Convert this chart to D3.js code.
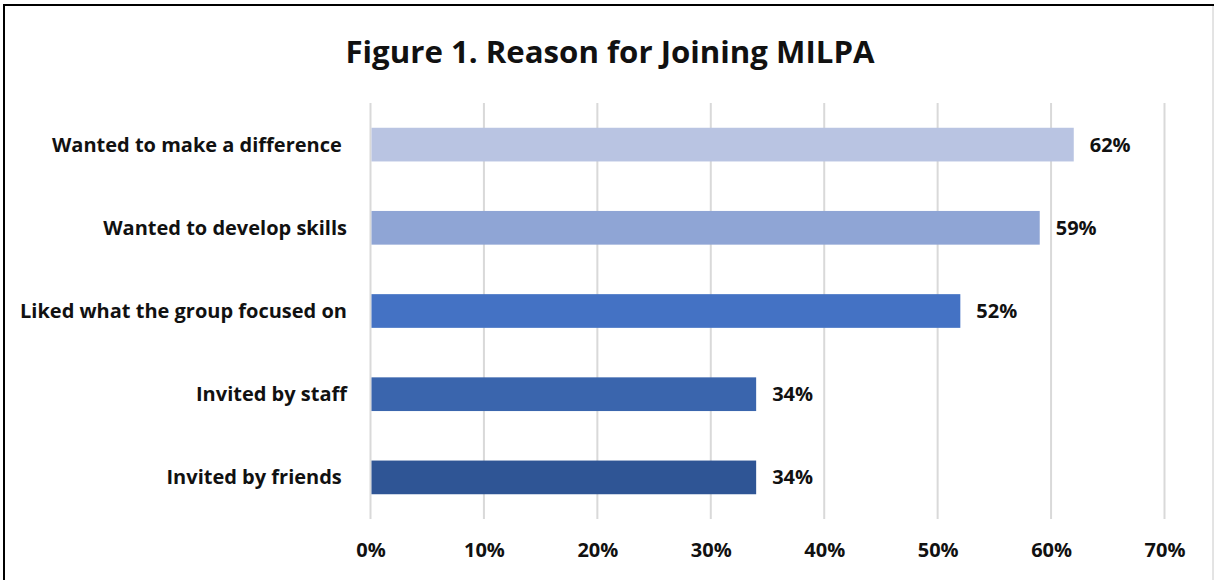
<!DOCTYPE html>
<html><head><meta charset="utf-8">
<script src="https://cdn.jsdelivr.net/npm/d3@7"></script>
<style>
html,body{margin:0;padding:0;background:#fff;}
svg{display:block;}
text{font-family:"Open Sans",Lato,sans-serif;font-weight:bold;fill:#111;}
</style></head>
<body>
<script>
const categories = ["Wanted to make a difference ", "Wanted to develop skills", "Liked what the group focused on", "Invited by staff", "Invited by friends "];
const values = [62, 59, 52, 34, 34];
const barColors = ["#B9C4E2", "#8FA5D5", "#4472C4", "#3A65AD", "#2F5595"];
const tickValues = [0, 10, 20, 30, 40, 50, 60, 70];
const title = "Figure 1. Reason for Joining MILPA";

const W = 1214, H = 580;
const svg = d3.select("body").append("svg").attr("width", W).attr("height", H);
svg.append("rect").attr("width", W).attr("height", H).attr("fill", "#fff");

// border (top & left black, right light gray)
svg.append("line").attr("x1", 3).attr("x2", W).attr("y1", 5).attr("y2", 5).attr("stroke", "#000").attr("stroke-width", 2);
svg.append("line").attr("x1", 4).attr("x2", 4).attr("y1", 4).attr("y2", H).attr("stroke", "#000").attr("stroke-width", 2);
svg.append("line").attr("x1", 1213).attr("x2", 1213).attr("y1", 6).attr("y2", H).attr("stroke", "#c8c8c8").attr("stroke-width", 1);

const x = d3.scaleLinear().domain([0, 70]).range([370.5, 1164.5]);
const y = d3.scaleBand().domain(categories).range([103, 519]).paddingInner(0.595).paddingOuter(0.2975);

// gridlines
svg.append("g").selectAll("line").data(tickValues).join("line")
  .attr("x1", d => x(d)).attr("x2", d => x(d))
  .attr("y1", 103).attr("y2", 519)
  .attr("stroke", "#d9d9d9").attr("stroke-width", 2);

// bars
svg.append("g").selectAll("rect").data(values).join("rect")
  .attr("x", x(0) + 1)
  .attr("y", (d, i) => y(categories[i]))
  .attr("width", d => x(d) - x(0) - 1)
  .attr("height", y.bandwidth())
  .attr("fill", (d, i) => barColors[i]);

// value labels
svg.append("g").selectAll("text").data(values).join("text")
  .attr("x", d => x(d) + 16)
  .attr("y", (d, i) => y(categories[i]) + y.bandwidth() / 2)
  .attr("dy", "0.35em")
  .attr("font-size", 20)
  .text(d => d + "%");

// category labels
svg.append("g").selectAll("text").data(categories).join("text")
  .attr("x", 347)
  .attr("y", d => y(d) + y.bandwidth() / 2)
  .attr("dy", "0.35em")
  .attr("text-anchor", "end")
  .attr("font-size", 20)
  .style("white-space", "pre")
  .text(d => d);

// x axis tick labels
const xAxis = d3.axisBottom(x).tickValues(tickValues).tickFormat(d => d + "%").tickSize(0).tickPadding(0);
const ax = svg.append("g").attr("transform", "translate(0,543)").call(xAxis);
ax.select(".domain").remove();
ax.selectAll("text").attr("font-size", 20).attr("font-family", "'Open Sans', Lato, sans-serif").attr("font-weight", "bold").attr("fill", "#111");

// title
svg.append("text").attr("x", 610).attr("y", 63).attr("text-anchor", "middle")
  .attr("font-size", 31.2).text(title);
</script>
</body></html>
